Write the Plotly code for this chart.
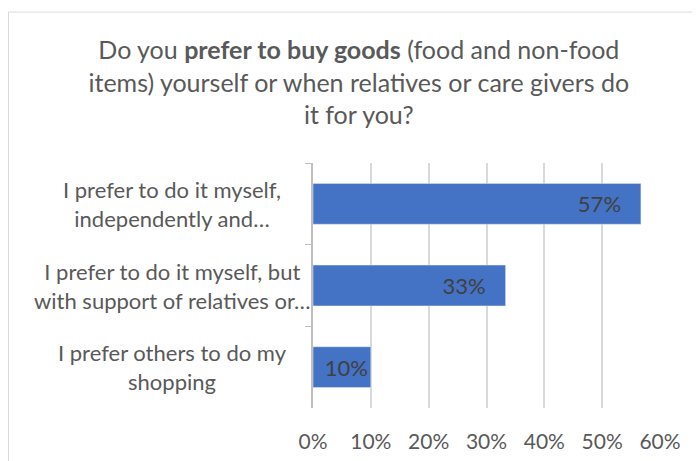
import plotly.graph_objects as go

# Survey answers (top to bottom) and share of respondents
categories = [
    "I prefer to do it myself,<br>independently and…",
    "I prefer to do it myself, but<br>with support of relatives or…",
    "I prefer others to do my<br>shopping",
]
shares = [0.567, 0.333, 0.10]
x_ticks = [0, 0.1, 0.2, 0.3, 0.4, 0.5, 0.6]

font_family = "Lato, Open Sans, sans-serif"
text_grey = "#595959"

# Excel "inside end" labels: some padding from the bar end when there is room
labels = [f"{v:.0%}" + ("\u00a0" * 3 if v > 0.2 else "") for v in shares]

fig = go.Figure(
    go.Bar(
        x=shares,
        y=categories,
        orientation="h",
        marker_color="#4472C4",
        width=0.5,
        text=labels,
        textposition="inside",
        insidetextanchor="end",
        textfont=dict(family=font_family, size=22, color="#404040"),
        hoverinfo="skip",
    )
)

# category labels, centred lines like Excel
for cat in categories:
    fig.add_annotation(
        x=0, xref="paper", y=cat, yref="y",
        text=cat, showarrow=False, align="center",
        xanchor="center", xshift=-141,
        font=dict(family=font_family, size=22, color=text_grey),
    )

# chart area border
fig.add_shape(
    type="rect", xref="paper", yref="paper",
    x0=-0.8775, x1=1.2, y0=-0.3, y1=1.616,
    line=dict(color="#D9D9D9", width=1), layer="below",
)

# page body has an 8px margin, so the figure is a bit smaller and shifted
fig.update_layout(
    width=692, height=453,
    margin=dict(l=305, r=40, t=155, b=53, autoexpand=False),
    paper_bgcolor="white", plot_bgcolor="white",
    showlegend=False,
    uniformtext=dict(minsize=22, mode="show"),
    title=dict(
        text="Do you <b>prefer to buy goods</b> (food and non-food<br>"
             "items) yourself or when relatives or care givers do<br>it for you?",
        x=0.507, xref="container", xanchor="center",
        y=0.887, yref="container", yanchor="top",
        font=dict(family=font_family, size=25, color=text_grey),
    ),
    xaxis=dict(
        range=[0, 0.6], tickvals=x_ticks, tickformat=".0%",
        showgrid=True, gridcolor="#D9D9D9", gridwidth=1.5,
        zeroline=False, showline=False, ticks="",
        ticklabelstandoff=19, automargin=False,
        tickfont=dict(family=font_family, size=21, color=text_grey),
    ),
    yaxis=dict(
        autorange="reversed", showticklabels=False,
        tickson="boundaries", ticks="outside", ticklen=6,
        tickcolor="#BFBFBF", showgrid=False, automargin=False,
        showline=True, linecolor="#BFBFBF", linewidth=1.5,
    ),
)

fig.write_html("out.html")
